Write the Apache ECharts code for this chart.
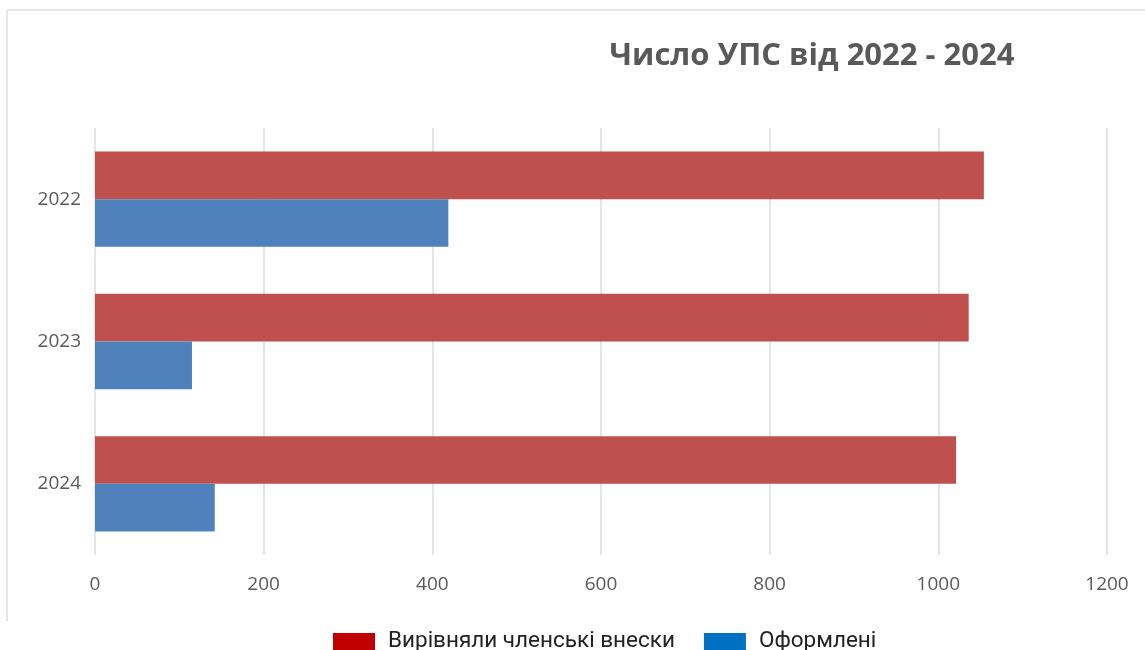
<!DOCTYPE html>
<html>
<head>
<meta charset="utf-8">
<style>
  html, body { margin: 0; padding: 0; background: #fff; }
  #chart { width: 1145px; height: 650px; }
</style>
<script src="https://cdn.jsdelivr.net/npm/echarts@6/dist/echarts.min.js"></script>
</head>
<body>
<div id="chart"></div>
<script>
var years = ['2022', '2023', '2024'];
var paidFees = [1054, 1036, 1021];   // Вирівняли членські внески
var registered = [419, 115, 142];    // Оформлені
var xTicks = [0, 200, 400, 600, 800, 1000, 1200];

var chart = echarts.init(document.getElementById('chart'));

chart.setOption({
    animation: false,
    backgroundColor: '#fff',
    title: {
        text: 'Число УПС від 2022 - 2024',
        left: 807,
        top: 36,
        textAlign: 'center',
        textStyle: {
            fontFamily: 'Open Sans',
            fontWeight: 'bold',
            fontSize: 31,
            color: '#595959'
        }
    },
    graphic: [
        { type: 'line', shape: { x1: 7, y1: 10, x2: 1145, y2: 10 }, style: { stroke: '#e6e6e6', lineWidth: 2 } },
        { type: 'line', shape: { x1: 7, y1: 10, x2: 7, y2: 621 }, style: { stroke: '#e6e6e6', lineWidth: 2 } }
    ],
    legend: {
        top: 625,
        left: 328,
        itemWidth: 42,
        itemHeight: 17,
        itemGap: 29,
        textStyle: {
            fontFamily: 'Roboto',
            fontSize: 22.5,
            color: '#222',
            padding: [0, 0, 0, 8]
        },
        data: [
            { name: 'Вирівняли членські внески', icon: 'rect', itemStyle: { color: '#C00000' } },
            { name: 'Оформлені', icon: 'rect', itemStyle: { color: '#0070C0' } }
        ]
    },
    grid: {
        left: 95,
        right: 38,
        top: 128,
        bottom: 95,
        containLabel: false
    },
    xAxis: {
        type: 'value',
        min: 0,
        max: 1200,
        interval: 200,
        axisLine: { show: false },
        axisTick: { show: false },
        splitLine: { lineStyle: { color: '#dcdcdc', width: 1.5 } },
        axisLabel: {
            margin: 20,
            fontFamily: 'Open Sans',
            fontSize: 19,
            color: '#595959',
            formatter: function (v) { return xTicks.indexOf(v) >= 0 ? String(v) : ''; }
        }
    },
    yAxis: {
        type: 'category',
        data: years,
        inverse: true,
        axisLine: { show: false },
        axisTick: { show: false },
        axisLabel: {
            margin: 14,
            fontFamily: 'Open Sans',
            fontSize: 19,
            color: '#595959'
        }
    },
    series: [
        {
            name: 'Вирівняли членські внески',
            type: 'bar',
            data: paidFees,
            barGap: '0%',
            barCategoryGap: '33%',
            itemStyle: { color: '#C0504D' }
        },
        {
            name: 'Оформлені',
            type: 'bar',
            data: registered,
            barGap: '0%',
            barCategoryGap: '33%',
            itemStyle: { color: '#4F81BD' }
        }
    ]
});
</script>
</body>
</html>
